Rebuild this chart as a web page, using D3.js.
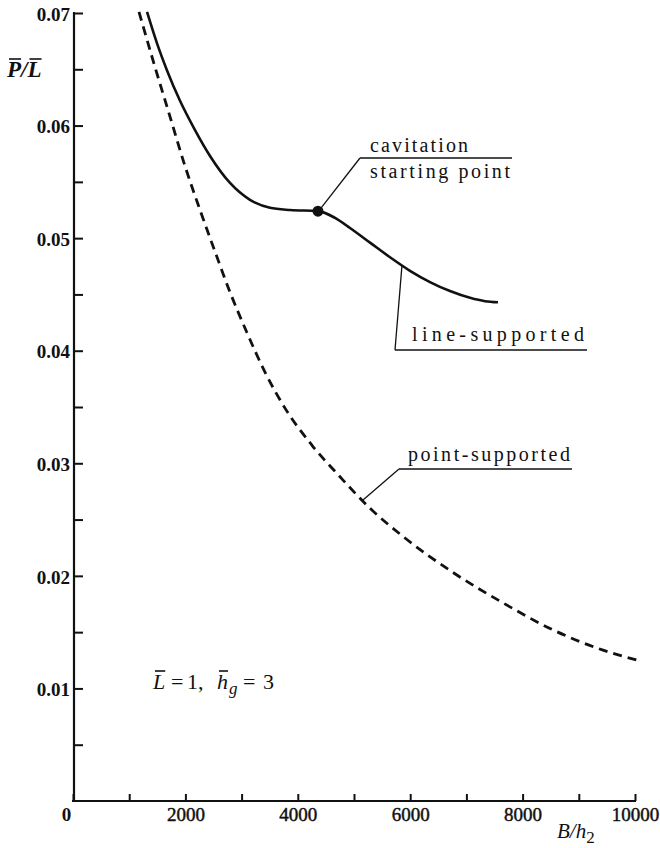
<!DOCTYPE html>
<html>
<head>
<meta charset="utf-8">
<script src="https://cdn.jsdelivr.net/npm/d3@7"></script>
<style>
  html, body { margin: 0; padding: 0; background: #fff; }
  svg { display: block; }
  text { fill: #111; white-space: pre; }
</style>
</head>
<body>
<svg id="chart" width="660" height="848"></svg>
<script>
// B/h2 on the horizontal axis, P/L on the vertical axis
const lineSupportedB = [1317, 1495, 1673, 1904, 2171, 2438, 2794, 3149, 3505, 3861, 4359, 4662, 4929, 5285, 5641, 5996, 6352, 6708, 7064, 7331, 7562];
const lineSupportedP = [0.0701, 0.0673, 0.0649, 0.0622, 0.0596, 0.0573, 0.0549, 0.0534, 0.0527, 0.0525, 0.0524, 0.0518, 0.0509, 0.0496, 0.0483, 0.0471, 0.0461, 0.0453, 0.0447, 0.0444, 0.0443];

const pointSupportedB = [1174, 1459, 1726, 1993, 2260, 2527, 2794, 3096, 3416, 3772, 4253, 4751, 5285, 5872, 6762, 7651, 8541, 9431, 10125];
const pointSupportedP = [0.0701, 0.0652, 0.0608, 0.0564, 0.0525, 0.0488, 0.0452, 0.0416, 0.0381, 0.0349, 0.0316, 0.0288, 0.0260, 0.0235, 0.0203, 0.0176, 0.0152, 0.0134, 0.0124];

// cavitation onset on the line-supported curve
const cavitationB = 4359;
const cavitationP = 0.0524;

const xTicks = [0, 1000, 2000, 3000, 4000, 5000, 6000, 7000, 8000, 9000, 10000];
const xTickLabels = ["0", "", "2000", "", "4000", "", "6000", "", "8000", "", "10000"];
const yTicks = [0.005, 0.01, 0.015, 0.02, 0.025, 0.03, 0.035, 0.04, 0.045, 0.05, 0.055, 0.06, 0.065, 0.07];
const yTickLabels = ["", "0.01", "", "0.02", "", "0.03", "", "0.04", "", "0.05", "", "0.06", "", "0.07"];

const svg = d3.select("#chart");
const x = d3.scaleLinear().domain([0, 10000]).range([73, 635]);
const y = d3.scaleLinear().domain([0, 0.07]).range([801, 13]);

const serif = "'Liberation Serif', 'Times New Roman', serif";

// ---- axes (ticks point into the plot) ----
const xAxis = d3.axisBottom(x)
  .tickValues(xTicks)
  .tickFormat((d, i) => xTickLabels[i])
  .tickSizeInner(-7).tickSizeOuter(0).tickPadding(6);
const gx = svg.append("g").attr("transform", "translate(0,801)").call(xAxis);
gx.selectAll("line").attr("stroke", "#111").attr("stroke-width", 2);
gx.select(".domain").attr("stroke", "#111").attr("stroke-width", 2).attr("d", "M72,0H636");
gx.selectAll("text").attr("font-family", serif).attr("font-size", 19).attr("fill", "#111")
  .attr("dy", "0.72em").attr("stroke", "#111").attr("stroke-width", 0.45);
gx.selectAll(".tick").filter(d => d === 0).select("text")
  .attr("x", -7).attr("font-weight", "bold").attr("stroke-width", 0);

const yAxis = d3.axisLeft(y)
  .tickValues(yTicks)
  .tickFormat((d, i) => yTickLabels[i])
  .tickSizeInner(-9).tickSizeOuter(0).tickPadding(4);
const gy = svg.append("g").attr("transform", "translate(74,0)").call(yAxis);
gy.selectAll("line").attr("stroke", "#111").attr("stroke-width", 2);
gy.select(".domain").attr("stroke", "#111").attr("stroke-width", 2.2).attr("d", "M0,12V802");
gy.selectAll("text").attr("font-family", serif).attr("font-size", 19).attr("font-weight", "bold")
  .attr("fill", "#111").attr("dy", "0.38em");

// ---- curves ----
const line = d3.line().x(d => x(d[0])).y(d => y(d[1])).curve(d3.curveMonotoneX);

svg.append("path")
  .datum(d3.zip(pointSupportedB, pointSupportedP))
  .attr("d", line)
  .attr("fill", "none").attr("stroke", "#111").attr("stroke-width", 2.8)
  .attr("stroke-dasharray", "9,6");

svg.append("path")
  .datum(d3.zip(lineSupportedB, lineSupportedP))
  .attr("d", line)
  .attr("fill", "none").attr("stroke", "#111").attr("stroke-width", 2.6);

svg.append("circle")
  .attr("cx", x(cavitationB)).attr("cy", y(cavitationP)).attr("r", 5.5).attr("fill", "#111");

// ---- callouts ----
const callouts = [
  { lines: [{ t: "cavitation", x: 370, y: 152, w: 98 }, { t: "starting point", x: 370, y: 178, w: 140 }],
    rule: [360, 158, 512], target: [x(cavitationB) + 3, y(cavitationP) - 3] },
  { lines: [{ t: "line-supported", x: 412, y: 341, w: 172 }],
    rule: [395, 350, 587], target: [x(5854), y(0.0476)] },
  { lines: [{ t: "point-supported", x: 408, y: 461, w: 162 }],
    rule: [399, 469, 572], target: [x(5150), y(0.0267)] }
];
callouts.forEach(c => {
  c.lines.forEach(l => {
    svg.append("text").attr("x", l.x).attr("y", l.y).text(l.t)
      .attr("font-family", serif).attr("font-size", 20)
      .attr("textLength", l.w).attr("lengthAdjust", "spacing");
  });
  svg.append("line").attr("x1", c.rule[0]).attr("y1", c.rule[1]).attr("x2", c.rule[2]).attr("y2", c.rule[1])
    .attr("stroke", "#111").attr("stroke-width", 1.6);
  svg.append("line").attr("x1", c.rule[0]).attr("y1", c.rule[1]).attr("x2", c.target[0]).attr("y2", c.target[1])
    .attr("stroke", "#111").attr("stroke-width", 1.3);
});

// draws a bar over selected characters of a text element
function overbar(textEl, indices, lift, shift) {
  const node = textEl.node();
  indices.forEach(i => {
    const e = node.getExtentOfChar(i);
    svg.append("line")
      .attr("x1", e.x + shift + 1).attr("x2", e.x + e.width + shift - 1)
      .attr("y1", e.y + lift).attr("y2", e.y + lift)
      .attr("stroke", "#111").attr("stroke-width", 1.6);
  });
}

// vertical axis title  P/L
const yTitle = svg.append("text").attr("x", 7).attr("y", 77)
  .attr("font-family", serif).attr("font-size", 23).attr("font-style", "italic").attr("font-weight", "bold");
yTitle.append("tspan").text("P");
yTitle.append("tspan").text("/");
yTitle.append("tspan").text("L");
overbar(yTitle, [0, 2], 2, 1);

// horizontal axis title  B/h2
const xTitle = svg.append("text").attr("x", 557).attr("y", 838)
  .attr("font-family", serif).attr("font-size", 21);
xTitle.append("tspan").attr("font-style", "italic").text("B");
xTitle.append("tspan").attr("font-style", "italic").text("/");
xTitle.append("tspan").attr("font-style", "italic").text("h");
xTitle.append("tspan").attr("dy", 5).attr("font-size", 17).text("2");

// parameter note
const note = svg.append("text").attr("y", 689)
  .attr("font-family", serif).attr("font-size", 22);
note.append("tspan").attr("x", 153).attr("font-style", "italic").text("L");
note.append("tspan").attr("x", 171).text("=");
note.append("tspan").attr("x", 187).text("1,");
note.append("tspan").attr("x", 217).attr("font-style", "italic").text("h");
note.append("tspan").attr("x", 229).attr("dy", 5).attr("font-style", "italic").attr("font-size", 17).text("g");
note.append("tspan").attr("x", 243).attr("dy", -5).text("=");
note.append("tspan").attr("x", 263).text("3");
overbar(note, [0, 4], 2, 1);
</script>
</body>
</html>
